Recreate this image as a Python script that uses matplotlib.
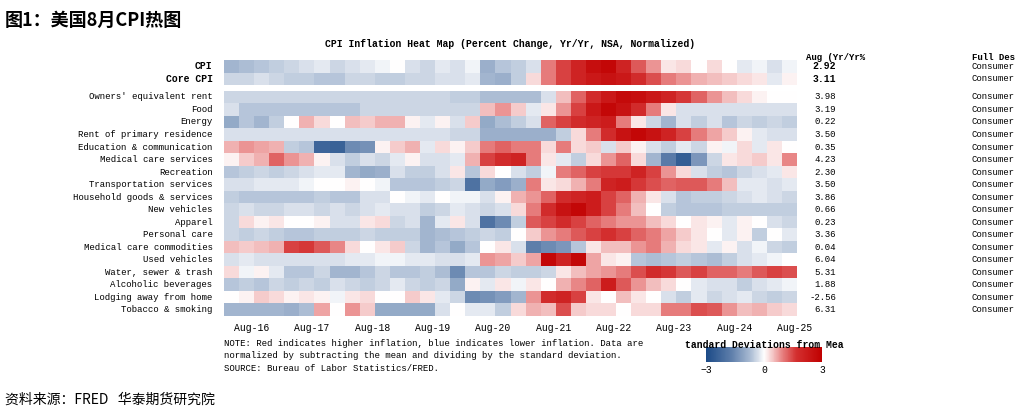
import numpy as np
import matplotlib
matplotlib.use("Agg")
import matplotlib.pyplot as plt
from matplotlib.colors import LinearSegmentedColormap

top_labels = ["CPI", "Core CPI"]
top_values = ["2.92", "3.11"]
labels = ["Owners' equivalent rent", "Food", "Energy", "Rent of primary residence",
          "Education & communication", "Medical care services", "Recreation",
          "Transportation services", "Household goods & services", "New vehicles",
          "Apparel", "Personal care", "Medical care commodities", "Used vehicles",
          "Water, sewer & trash", "Alcoholic beverages", "Lodging away from home",
          "Tobacco & smoking"]
values = ["3.98", "3.19", "0.22", "3.50", "0.35", "4.23", "2.30", "3.50", "3.86", "0.66",
          "0.23", "3.36", "0.04", "6.04", "5.31", "1.88", "-2.56", "6.31"]
xtick_labels = ["Aug-16", "Aug-17", "Aug-18", "Aug-19", "Aug-20", "Aug-21", "Aug-22",
                "Aug-23", "Aug-24", "Aug-25"]

# quarterly z-scores, Mar-2016 .. Aug-2025
cpi = [-0.8,-0.7,-0.6,-0.5,-0.4,-0.3,-0.2,-0.4,-0.3,-0.2,-0.1,0,-0.3,-0.4,-0.2,-0.3,-0.1,-0.9,-0.6,-0.5,-0.3,1.0,1.5,2.0,2.6,2.8,2.0,1.3,0.8,0.2,0.3,0.0,0.3,0.0,-0.2,-0.1,-0.3,-0.1]
core = [-0.4,-0.4,-0.3,-0.4,-0.5,-0.5,-0.6,-0.6,-0.4,-0.4,-0.5,-0.5,-0.4,-0.4,-0.3,-0.3,-0.2,-0.8,-0.9,-0.5,0.3,1.0,1.5,2.0,2.3,2.5,2.3,1.8,1.4,1.0,0.8,0.6,0.5,0.4,0.3,0.2,-0.2,0.1]
oer = [-0.4,-0.4,-0.4,-0.4,-0.4,-0.4,-0.4,-0.4,-0.4,-0.4,-0.4,-0.4,-0.4,-0.4,-0.4,-0.5,-0.5,-0.7,-0.7,-0.7,-0.7,-0.3,0.5,1.2,1.8,2.3,2.7,2.6,2.3,2.0,1.6,1.2,0.8,0.5,0.3,0.1,0.0,0.0]
food = [-0.3,-0.6,-0.6,-0.6,-0.6,-0.6,-0.6,-0.6,-0.6,-0.4,-0.4,-0.4,-0.4,-0.4,-0.4,-0.4,-0.4,0.5,0.8,0.4,-0.2,0.2,0.8,1.5,2.3,2.8,2.5,1.8,1.0,0.2,-0.3,-0.3,-0.3,-0.3,-0.3,-0.3,-0.3,-0.3]
energy = [-1.0,-0.6,-0.8,-0.5,0,0.6,0.3,0,0.5,0.4,0.6,0.6,0.1,-0.2,0.1,-0.3,0.4,-1.0,-0.7,-0.5,-0.3,1.2,1.5,1.8,2.0,2.2,1.0,0.2,-0.4,-0.8,-0.3,-0.5,-0.3,-0.6,-0.4,-0.5,-0.4,-0.5]
rent = [-0.3,-0.3,-0.3,-0.3,-0.3,-0.3,-0.3,-0.3,-0.3,-0.3,-0.3,-0.3,-0.3,-0.3,-0.3,-0.4,-0.4,-0.9,-0.9,-0.9,-0.9,-0.9,-0.5,0.3,1.0,1.8,2.5,2.8,2.5,2.0,1.5,1.0,0.7,0.4,0.1,-0.2,-0.3,-0.3]
edu = [0.6,0.8,0.7,0.6,-0.5,-0.6,-2.3,-2.4,-1.5,-1.4,0.1,0.4,0.6,-0.2,0.3,0.1,0.4,1.0,1.2,1.0,1.0,0.3,1.0,0.3,0.4,-0.3,0.4,0.1,-0.3,-0.5,-0.2,-0.4,0.1,-0.1,0.3,-0.2,0.2,0.0]
medsvc = [0.1,0.4,0.6,1.2,0.8,0.6,0.1,-0.3,-0.5,-0.3,-0.4,-0.2,0.1,-0.3,-0.3,-0.2,0.6,1.5,1.8,2.0,1.0,0.2,-0.2,-0.5,0.3,0.8,1.2,0.3,-0.8,-1.8,-2.5,-1.3,-0.4,0.2,0.3,0.4,0.2,0.9]
recreation = [-0.6,-0.5,-0.4,-0.5,-0.4,-0.3,-0.2,-0.2,-0.8,-1.0,-0.9,-0.3,-0.5,-0.5,-0.3,0.2,-0.6,0.3,0.0,-0.3,-0.5,-0.1,1.0,1.2,1.5,1.6,1.6,2.0,1.5,0.8,0.3,-0.3,-0.5,-0.6,-0.4,-0.3,-0.2,0.2]
transport = [-0.3,-0.3,-0.2,-0.2,-0.2,-0.1,0,0.0,0.1,0.0,-0.1,-0.6,-0.6,-0.6,-0.5,-0.4,-2.0,-1.0,-1.2,-0.9,1.0,0.2,0.3,0.6,1.0,2.0,2.2,1.6,1.4,1.2,1.3,1.3,1.0,0.5,-0.2,-0.2,-0.3,-0.2]
household = [-0.5,-0.6,-0.6,-0.6,-0.6,-0.6,-0.5,-0.6,-0.6,-0.3,-0.3,0.0,-0.1,-0.2,0.0,-0.1,-0.1,-0.3,0.1,0.6,0.8,1.2,1.8,2.0,2.2,1.5,1.2,0.6,0.2,-0.3,-0.6,-0.5,-0.5,-0.4,-0.3,-0.2,-0.3,-0.4]
newveh = [-0.4,-0.3,-0.4,-0.4,-0.3,-0.3,-0.4,-0.3,-0.4,-0.3,-0.2,-0.3,-0.3,-0.5,-0.4,-0.2,-0.3,-0.4,-0.3,0.3,1.0,1.8,2.5,2.8,2.2,1.5,1.0,0.5,0.0,-0.5,-0.6,-0.6,-0.6,-0.5,-0.5,-0.5,-0.5,-0.5]
apparel = [-0.4,0.3,0.1,0.2,0.0,0.0,0.1,-0.3,-0.3,0.2,0.3,-0.4,-0.3,-0.8,-0.2,0.2,-0.3,-2.0,-1.5,-0.5,1.3,1.5,1.8,1.5,1.2,1.0,0.8,0.8,0.5,0.3,0.0,0.2,0.1,-0.2,0.1,0.0,-0.3,-0.4]
personal = [-0.4,-0.5,-0.4,-0.5,-0.6,-0.6,-0.5,-0.5,-0.5,-0.4,-0.5,-0.5,-0.5,-0.8,-0.7,-0.6,-0.5,-0.4,-0.5,0.0,0.4,0.8,1.0,1.3,1.5,1.7,1.5,1.2,1.0,0.7,0.4,0.2,0.0,-0.2,0.1,-0.5,0.0,-0.2]
medcom = [0.5,0.4,0.5,0.6,1.5,1.6,1.3,0.9,0.3,0.0,0.2,0.4,-0.4,-0.8,-0.6,-1.0,-0.6,0.0,0.2,-0.3,-1.7,-1.5,-1.3,-0.6,0.2,0.5,0.5,0.8,1.0,0.6,0.3,0.2,-0.2,0.1,-0.3,-0.1,-0.4,-0.5]
usedveh = [-0.3,-0.2,-0.3,-0.3,-0.3,-0.3,-0.3,-0.3,-0.2,-0.2,-0.1,-0.1,-0.2,-0.2,-0.3,-0.3,-0.2,0.8,0.7,0.4,0.7,2.8,2.0,2.8,0.7,0.2,0.1,-0.6,-0.7,-0.6,-0.5,-0.6,-0.7,-0.5,-0.3,-0.2,-0.1,0.0]
water = [0.3,-0.1,0.1,-0.2,-0.6,-0.6,-0.4,-0.8,-0.8,-0.6,-0.4,-0.6,-0.6,-0.5,-0.7,-1.5,-0.6,-0.6,-0.4,-0.5,-0.5,-0.4,0.2,0.5,0.7,0.8,1.0,1.4,1.8,1.6,1.3,1.5,1.2,1.2,1.0,1.3,1.5,1.4]
alcohol = [-0.6,-0.5,-0.6,-0.4,-0.5,-0.4,-0.5,-0.3,-0.4,-0.5,-0.4,-0.2,-0.4,-0.5,-0.4,-1.0,0.1,-0.2,0.2,-0.1,0.2,0.0,0.6,0.9,1.2,2.2,1.3,0.8,0.5,0.3,0.0,-0.2,-0.3,-0.3,-0.5,-0.3,-0.2,-0.1]
lodging = [0.0,0.1,0.4,0.3,0.1,0.2,0.1,-0.1,0.2,0.3,0.0,0.0,0.4,0.2,-0.2,-0.4,-1.5,-1.4,-1.2,-0.8,0.8,1.8,2.0,1.5,0.2,0.0,0.5,0.2,0.0,-0.3,-0.5,-0.2,-0.4,-0.3,-0.2,-0.4,-0.5,-0.4]
tobacco = [-0.8,-0.8,-0.8,-0.8,-0.9,-0.7,0.7,0.0,0.8,0.4,-1.0,-1.0,-1.0,-1.0,-0.3,0.0,-0.2,-0.2,-0.5,0.3,0.6,0.5,1.4,0.4,0.3,0.3,0.0,0.3,0.3,1.0,1.0,1.4,1.3,0.8,0.5,0.6,0.4,0.3]

top_rows = np.array([cpi, core])
rows = np.array([oer, food, energy, rent, edu, medsvc, recreation, transport, household,
                 newveh, apparel, personal, medcom, usedveh, water, alcohol, lodging, tobacco])

mono = ["Liberation Mono", "DejaVu Sans Mono"]
plt.rcParams['font.family'] = ['Noto Sans CJK SC', 'DejaVu Sans']
cmap = LinearSegmentedColormap.from_list("c", [
    (0.0, "#1b4a87"), (0.22, "#5f7fab"), (0.38, "#a9bbd3"), (0.46, "#dfe5ee"),
    (0.5, "#ffffff"), (0.56, "#f6d2d2"), (0.66, "#e77f7f"), (0.78, "#d32f2f"),
    (1.0, "#c00000")])

fig = plt.figure(figsize=(10.26, 4.17), dpi=100)
ax = fig.add_axes([224/1026, 1-316/417, 573/1026, 256/417])
nq = top_rows.shape[1]
xe = np.arange(nq + 1) * 3.0
ax.pcolormesh(xe, np.array([0, 1, 2]), top_rows, cmap=cmap, vmin=-3, vmax=3)
gap = 0.45
ye = np.arange(len(rows) + 1) + 2 + gap
m = ax.pcolormesh(xe, ye, rows, cmap=cmap, vmin=-3, vmax=3)
ax.set_ylim(ye[-1], 0)
ax.set_xlim(0, xe[-1])
for s in ax.spines.values():
    s.set_visible(False)
ax.set_yticks([])
ax.set_xticks(5.5 + 12 * np.arange(len(xtick_labels)))
ax.set_xticklabels(xtick_labels, family=mono, fontsize=7)
ax.tick_params(axis='x', length=0, pad=5)

tr = ax.get_yaxis_transform()
for i, (lab, v) in enumerate(zip(top_labels, top_values)):
    ax.text(-0.02, i + 0.5, lab, transform=tr, ha='right', va='center', family=mono, fontsize=7, fontweight='bold')
    ax.text(1.068, i + 0.5, v, transform=tr, ha='right', va='center', family=mono, fontsize=7, fontweight='bold')
    ax.text(1.305, i + 0.5, "Consumer", transform=tr, ha='left', va='center', family=mono, fontsize=6.5)
for i, (lab, v) in enumerate(zip(labels, values)):
    y = ye[i] + 0.5
    ax.text(-0.02, y, lab, transform=tr, ha='right', va='center', family=mono, fontsize=6.5)
    ax.text(1.068, y, v, transform=tr, ha='right', va='center', family=mono, fontsize=6.5)
    ax.text(1.305, y, "Consumer", transform=tr, ha='left', va='center', family=mono, fontsize=6.5)

fig.text(806/1026, 1-57/417, "Aug (Yr/Yr%", family=mono, fontsize=6.5, fontweight='bold', va='center')
fig.text(972/1026, 1-57/417, "Full Des", family=mono, fontsize=6.5, fontweight='bold', va='center')
fig.text(510/1026, 1-44/417, "CPI Inflation Heat Map (Percent Change, Yr/Yr, NSA, Normalized)",
         family=mono, fontsize=7, fontweight='bold', ha='center', va='center')
fig.text(5/1026, 1-20/417, "图1：美国8月CPI热图", fontsize=13, fontweight='bold', va='center')
fig.text(5/1026, 1-400/417, "资料来源：FRED   华泰期货研究院", fontsize=10, style='italic', va='center')

note = ("NOTE: Red indicates higher inflation, blue indicates lower inflation. Data are\n"
        "normalized by subtracting the mean and dividing by the standard deviation.\n"
        "SOURCE: Bureau of Labor Statistics/FRED.")
fig.text(224/1026, 1-356/417, note, family=mono, fontsize=6.5, va='center', linespacing=1.45)

cax = fig.add_axes([706/1026, 1-362/417, 116/1026, 15/417])
cb = fig.colorbar(m, cax=cax, orientation='horizontal', ticks=[-3, 0, 3])
cb.outline.set_visible(False)
cax.tick_params(length=0, labelsize=7, pad=2)
for t in cax.get_xticklabels():
    t.set_family(mono)
fig.text(764/1026, 1-345/417, "tandard Deviations from Mea", family=mono, fontsize=7,
         fontweight='bold', ha='center', va='center')

fig.savefig("out.png", dpi=100)
